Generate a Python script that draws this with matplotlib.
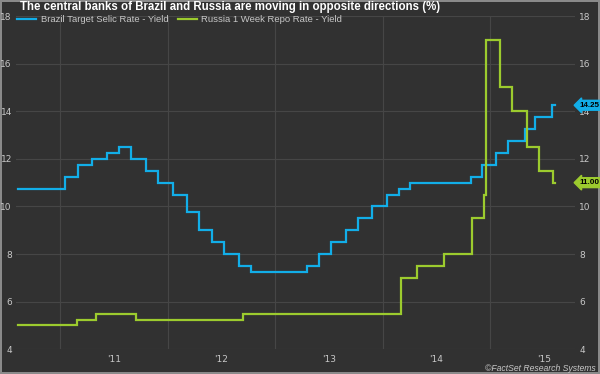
import matplotlib
matplotlib.use("Agg")
import matplotlib.pyplot as plt
import matplotlib.dates as mdates
import pandas as pd

title = "The central banks of Brazil and Russia are moving in opposite directions (%)"
brazil_label = "Brazil Target Selic Rate - Yield"
russia_label = "Russia 1 Week Repo Rate - Yield"

brazil_dates = ["2010-08-10", "2011-01-19", "2011-03-02", "2011-04-20", "2011-06-08",
                "2011-07-20", "2011-08-31", "2011-10-19", "2011-11-30", "2012-01-18",
                "2012-03-07", "2012-04-18", "2012-05-30", "2012-07-11", "2012-08-29",
                "2012-10-10", "2013-04-17", "2013-05-29", "2013-07-10", "2013-08-28",
                "2013-10-09", "2013-11-27", "2014-01-15", "2014-02-26", "2014-04-02",
                "2014-10-29", "2014-12-03", "2015-01-21", "2015-03-04", "2015-04-29",
                "2015-06-03", "2015-07-29", "2015-08-10"]
brazil_values = [10.75, 11.25, 11.75, 12.00, 12.25,
                 12.50, 12.00, 11.50, 11.00, 10.50,
                 9.75, 9.00, 8.50, 8.00, 7.50,
                 7.25, 7.50, 8.00, 8.50, 9.00,
                 9.50, 10.00, 10.50, 10.75, 11.00,
                 11.25, 11.75, 12.25, 12.75, 13.25,
                 13.75, 14.25, 14.25]

russia_dates = ["2010-08-10", "2011-02-28", "2011-05-03", "2011-09-15", "2012-09-14",
                "2014-03-03", "2014-04-28", "2014-07-28", "2014-10-31", "2014-12-12",
                "2014-12-16", "2015-02-02", "2015-03-16", "2015-05-05", "2015-06-16",
                "2015-08-03", "2015-08-10"]
russia_values = [5.00, 5.25, 5.50, 5.25, 5.50,
                 7.00, 7.50, 8.00, 9.50, 10.50,
                 17.00, 15.00, 14.00, 12.50, 11.50,
                 11.00, 11.00]

year_labels = ["'11", "'12", "'13", "'14", "'15"]
y_ticks = [4, 6, 8, 10, 12, 14, 16, 18]

BG = "#313131"
GRID = "#464646"
BLUE = "#12aee8"
GREEN = "#9ccb2e"
TXT = "#c8c8c8"

W, H = 600, 374
fig = plt.figure(figsize=(6.0, 3.74), dpi=100)
fig.patch.set_facecolor(BG)
fig.patch.set_edgecolor("#8a8a8a")
fig.patch.set_linewidth(1.5)

ax_l, ax_r, ax_t, ax_b = 16, 575, 16, 349.3
ax = fig.add_axes([ax_l / W, 1 - ax_b / H, (ax_r - ax_l) / W, (ax_b - ax_t) / H])
ax.set_facecolor(BG)

bd = pd.to_datetime(brazil_dates)
rd = pd.to_datetime(russia_dates)
ax.plot(bd, brazil_values, color=BLUE, lw=1.6, drawstyle="steps-post",
        solid_joinstyle="miter", label=brazil_label, zorder=3)
ax.plot(rd, russia_values, color=GREEN, lw=1.6, drawstyle="steps-post",
        solid_joinstyle="miter", label=russia_label, zorder=3)

ax.set_xlim(pd.Timestamp("2010-08-04"), pd.Timestamp("2015-10-16"))
ax.set_ylim(4, 18)

# grid at year starts, labels mid-year
ax.xaxis.set_major_locator(mdates.YearLocator())
ax.xaxis.set_major_formatter(plt.NullFormatter())
mid = [pd.Timestamp(f"20{l[1:]}-07-02") for l in year_labels]
ax.set_xticks(mid, minor=True)
ax.set_xticklabels(year_labels, minor=True)
ax.set_yticks(y_ticks)
ax.set_yticklabels([str(v) for v in y_ticks])

ax.grid(True, which="major", color=GRID, lw=0.8)
ax.tick_params(axis="x", which="both", length=0, colors=TXT, labelsize=6.5, pad=4)
ax.tick_params(axis="y", length=0, colors=TXT, labelsize=6.5, pad=3,
               labelleft=True, labelright=True)
for s in ax.spines.values():
    s.set_visible(False)

# title and legend
fig.text(20 / W, 1 - 7 / H, title, color="white", fontsize=8.3,
         fontweight="bold", family="Liberation Sans", va="center", ha="left")
leg = fig.legend(handles=ax.get_lines(), loc="center left",
                 bbox_to_anchor=(17 / W, 1 - 20 / H), ncol=2, frameon=False,
                 handlelength=2.0, handletextpad=0.5, columnspacing=1.0,
                 borderaxespad=0.0, borderpad=0.0,
                 prop={"family": "Liberation Sans", "size": 6.8})
for t in leg.get_texts():
    t.set_color(TXT)

# last value tags
for vals, col in [(brazil_values, BLUE), (russia_values, GREEN)]:
    ax.annotate(f"{vals[-1]:.2f}", xy=(1.0, vals[-1]), xycoords=("axes fraction", "data"),
                xytext=(1.0 + 4.5 / (ax_r - ax_l), vals[-1]), textcoords=("axes fraction", "data"),
                fontsize=5.8, fontweight="bold", color="black", va="center", ha="left",
                family="Liberation Sans",
                bbox=dict(boxstyle="larrow,pad=0.18", fc=col, ec=col), annotation_clip=False,
                zorder=5)

fig.text(596 / W, 1 - 368.5 / H, "\u00a9FactSet Research Systems", color=TXT, fontsize=6.2,
         style="italic", ha="right", va="center", family="Liberation Sans")

fig.savefig("out.png", dpi=100, facecolor=BG, edgecolor=fig.patch.get_edgecolor())
